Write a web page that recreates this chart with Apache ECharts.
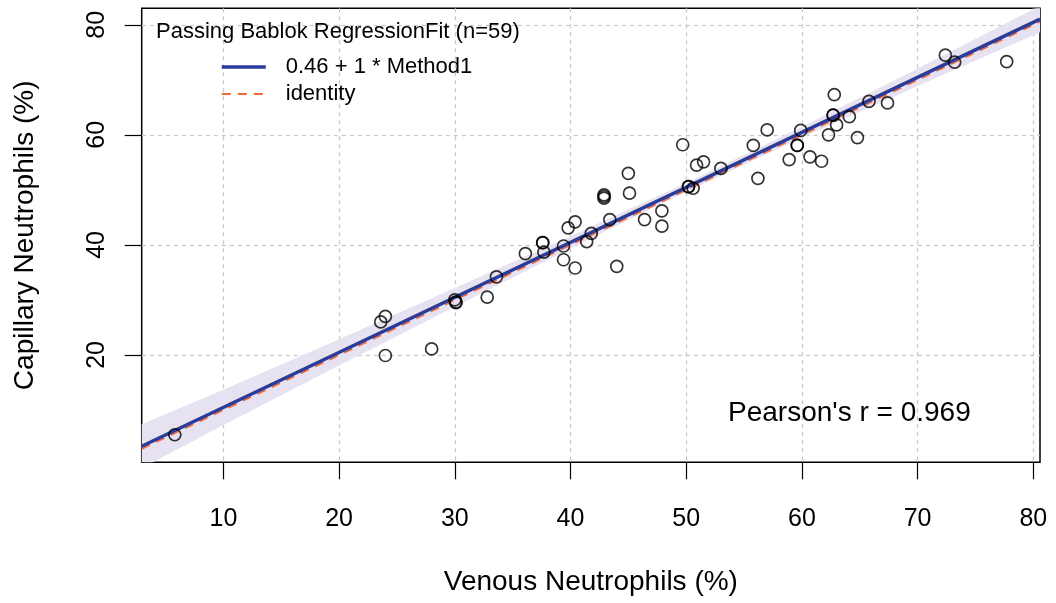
<!DOCTYPE html>
<html>
<head>
<meta charset="utf-8">
<script src="https://cdn.jsdelivr.net/npm/echarts@6/dist/echarts.min.js"></script>
<style>
html,body{margin:0;padding:0;background:#fff;}
#main{width:1056px;height:603px;}
</style>
</head>
<body>
<div id="main"></div>
<script>
// venous (Method1) vs capillary (Method2) neutrophils, %
var venous = [5.8, 23.6, 24.0, 24.0, 28.0, 30.0, 30.1, 32.8, 33.6, 36.1,
              37.6, 37.7, 39.4, 39.4, 39.8, 40.4, 40.4, 41.4, 41.8, 42.9,
              42.9, 43.4, 44.0, 45.0, 45.1, 46.4, 47.9, 47.9, 49.7, 50.2,
              50.6, 50.9, 51.5, 53.0, 55.8, 56.2, 57.0, 58.9, 59.6, 59.9,
              60.7, 61.7, 62.3, 62.7, 62.8, 63.0, 64.1, 64.8, 65.8, 67.4,
              72.4, 73.2, 77.7, 30.1, 42.9, 59.6, 62.7, 37.6, 50.2];
var capillary = [5.5, 26.0, 27.0, 19.9, 21.1, 30.0, 29.5, 30.5, 34.2, 38.4,
                 40.4, 38.7, 39.8, 37.3, 43.1, 44.2, 35.8, 40.6, 42.1, 49.1,
                 48.5, 44.6, 36.1, 53.0, 49.4, 44.6, 46.2, 43.4, 58.2, 50.6,
                 50.3, 54.5, 55.1, 53.9, 58.1, 52.1, 60.9, 55.5, 58.1, 60.8,
                 56.0, 55.2, 60.0, 63.6, 67.3, 61.8, 63.3, 59.5, 66.1, 65.8,
                 74.5, 73.2, 73.3, 29.6, 48.8, 58.1, 63.6, 40.4, 50.6];

// fitted line and its confidence band
var fitIntercept = 0.46;
var fitSlope = 1;
var lineX = [2.94, 80.58];
var bandX  = [2.94, 10, 20, 30, 40, 50, 60, 70, 80.58];
var bandLo = [-0.6, 7.26, 18.06, 28.76, 39.36, 49.66, 59.46, 68.86, 78.64];
var bandHi = [7.4, 13.66, 22.86, 32.16, 41.56, 51.26, 61.46, 72.06, 83.44];

var xTicks = [10, 20, 30, 40, 50, 60, 70, 80];
var yTicks = [20, 40, 60, 80];

var font = "'Liberation Sans', Arial, Helvetica, sans-serif";
var fitName = fitIntercept + ' + ' + fitSlope + ' * Method1';
var fitColor = '#2b3c98';
var identColor = '#ee6a3b';

var points = venous.map(function(v, i){ return [v, capillary[i]]; });
var fitLine = lineX.map(function(x){ return [x, fitIntercept + fitSlope * x]; });
var identLine = lineX.map(function(x){ return [x, x]; });
var bandData = bandX.map(function(x, i){ return [x, bandLo[i], bandHi[i]]; });

var chart = echarts.init(document.getElementById('main'));
var gridLine = {show: true, lineStyle: {color: '#c8c8c8', width: 1.3, type: [4, 4]}};

chart.setOption({
    animation: false,
    backgroundColor: '#fff',
    textStyle: {fontFamily: font, color: '#000'},
    grid: {left: 141.7, right: 16, top: 8.3, bottom: 140.7, show: true,
           borderColor: '#000', borderWidth: 1.5, backgroundColor: 'transparent'},
    title: [
        {text: 'Passing Bablok RegressionFit (n=59)', left: 156, top: 21, padding: 0,
         textStyle: {fontFamily: font, fontSize: 22, fontWeight: 'normal', color: '#000'}},
        {text: "Pearson's r = 0.969", left: 728, top: 399, padding: 0,
         textStyle: {fontFamily: font, fontSize: 28, fontWeight: 'normal', color: '#000'}}
    ],
    legend: {
        left: 220, top: 56, orient: 'vertical', itemWidth: 44, itemHeight: 14, itemGap: 5,
        selectedMode: false, padding: 0,
        data: [
            {name: fitName, lineStyle: {width: 3.5, color: fitColor}},
            {name: 'identity', lineStyle: {width: 2, color: identColor, type: [9, 7]}}
        ],
        itemStyle: {opacity: 0},
        textStyle: {fontFamily: font, fontSize: 22, color: '#000', padding: [0, 0, 0, 15]}
    },
    xAxis: {
        type: 'value', min: lineX[0], max: lineX[1],
        name: 'Venous Neutrophils (%)', nameLocation: 'middle', nameGap: 106,
        nameTextStyle: {fontFamily: font, fontSize: 28, color: '#000'},
        axisLine: {show: false},
        axisTick: {show: true, customValues: xTicks, length: 17, lineStyle: {color: '#000', width: 1.2}},
        axisLabel: {customValues: xTicks, fontSize: 25, color: '#000', margin: 44, fontFamily: font},
        splitLine: gridLine
    },
    yAxis: {
        type: 'value', min: 0.49, max: 83.0,
        name: 'Capillary Neutrophils (%)', nameLocation: 'middle', nameGap: 102,
        nameTextStyle: {fontFamily: font, fontSize: 28, color: '#000'},
        axisLine: {show: false},
        axisTick: {show: true, customValues: yTicks, length: 17, lineStyle: {color: '#000', width: 1.2}},
        axisLabel: {customValues: yTicks, fontSize: 25, color: '#000', margin: 32, rotate: 90, fontFamily: font},
        splitLine: gridLine
    },
    series: [
        {
            type: 'custom', name: 'band', silent: true, clip: true, z: 1,
            data: bandData,
            renderItem: function(params, api){
                if (params.dataIndex !== 0) return;
                var pts = [];
                for (var i = 0; i < bandX.length; i++) pts.push(api.coord([bandX[i], bandHi[i]]));
                for (var j = bandX.length - 1; j >= 0; j--) pts.push(api.coord([bandX[j], bandLo[j]]));
                return {type: 'polygon', shape: {points: pts}, style: {fill: '#e6e2f1'}};
            }
        },
        {
            type: 'line', name: 'identity', data: identLine, symbol: 'none', z: 2,
            lineStyle: {color: identColor, width: 2, type: [9, 7]}, itemStyle: {color: identColor}
        },
        {
            type: 'line', name: fitName, data: fitLine, symbol: 'none', z: 3,
            lineStyle: {color: fitColor, width: 3.5}, itemStyle: {color: fitColor}
        },
        {
            type: 'scatter', name: 'points', data: points, symbol: 'circle', symbolSize: 12, z: 4,
            itemStyle: {color: 'rgba(0,0,0,0)', borderColor: '#000', borderWidth: 1.7},
            emphasis: {disabled: true}
        }
    ]
});
</script>
</body>
</html>
